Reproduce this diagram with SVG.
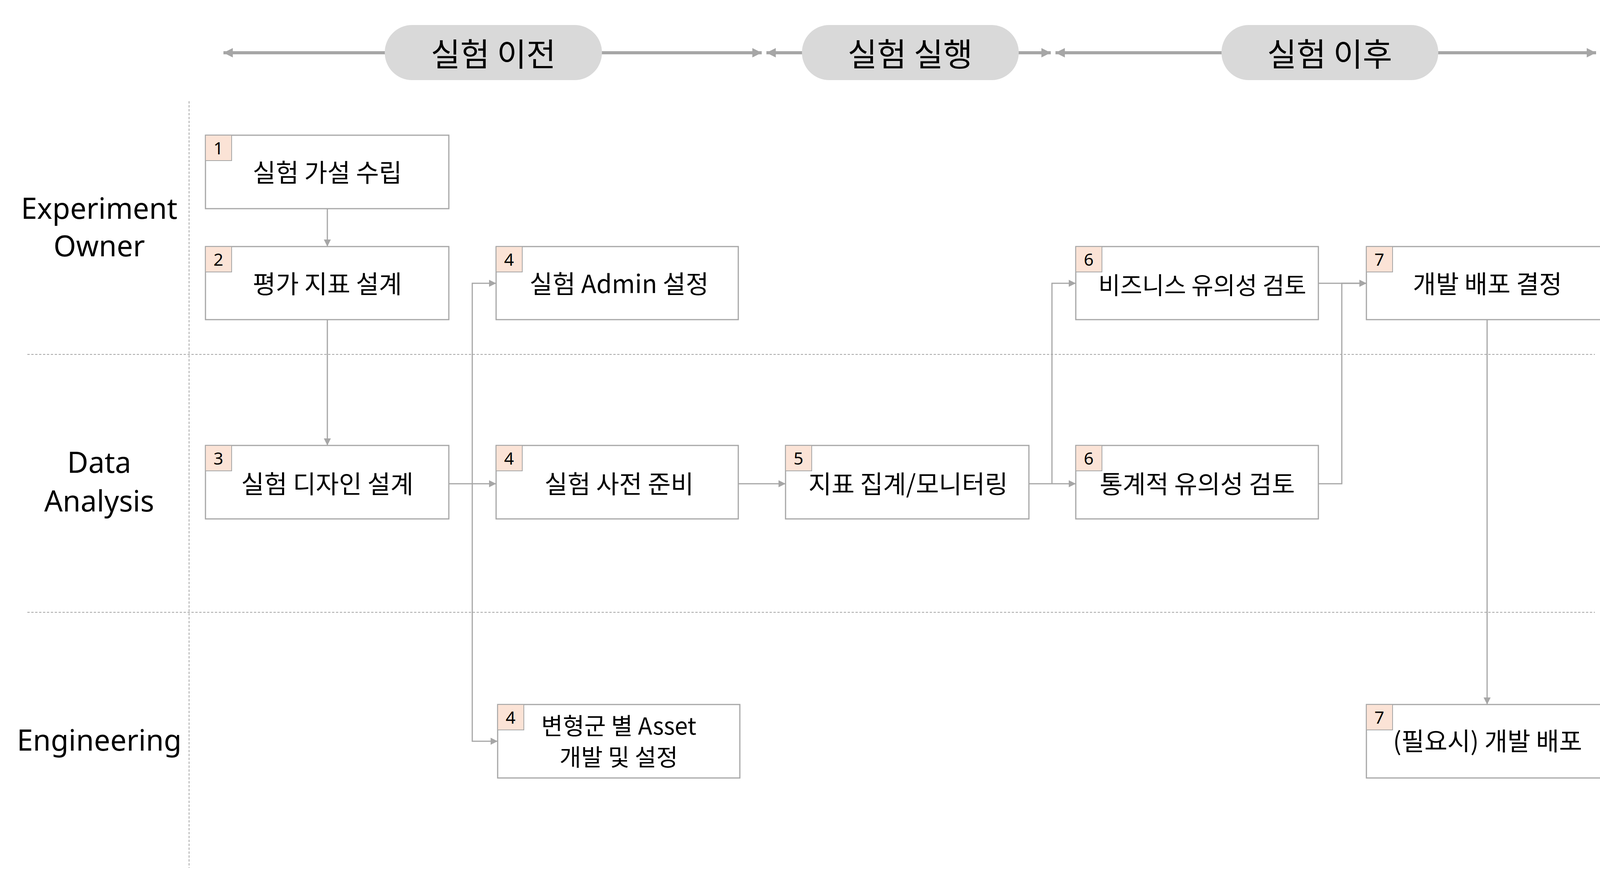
<svg xmlns="http://www.w3.org/2000/svg" width="4185" height="2247" viewBox="0 0 4185 2247">
<style>
.box{fill:#fff;stroke:#a6a6a6;stroke-width:3}
.badge{fill:#fbe3d6;stroke:#a6a6a6;stroke-width:2}
.t{font-family:"Noto Sans CJK KR","Noto Sans",sans-serif;font-size:64px;fill:#000;text-anchor:middle;dominant-baseline:central}
.n{font-family:"Noto Sans","Noto Sans CJK KR",sans-serif;font-size:44px;fill:#000;text-anchor:middle;dominant-baseline:central}
.lane{font-family:"Noto Sans","Noto Sans CJK KR",sans-serif;font-size:74px;fill:#000;text-anchor:middle;dominant-baseline:central}
.pill{fill:#d9d9d9}
.pt{font-family:"Noto Sans CJK KR",sans-serif;font-size:82px;fill:#000;text-anchor:middle;dominant-baseline:central}
.c{fill:none;stroke:#a6a6a6;stroke-width:3;marker-end:url(#a)}
.h{fill:none;stroke:#a6a6a6;stroke-width:8;marker-end:url(#ha);marker-start:url(#hs)}
.d{stroke:#a6a6a6;stroke-width:2;stroke-dasharray:6 4}
</style>
<defs>
<marker id="a" viewBox="0 0 10 10" refX="10" refY="5" markerWidth="6" markerHeight="6" orient="auto"><path d="M0,0L10,5L0,10z" fill="#a6a6a6"/></marker>
<marker id="ha" viewBox="0 0 10 10" refX="10" refY="5" markerWidth="3" markerHeight="3" orient="auto"><path d="M0,0L10,5L0,10z" fill="#a6a6a6"/></marker>
<marker id="hs" viewBox="0 0 10 10" refX="0" refY="5" markerWidth="3" markerHeight="3" orient="auto"><path d="M10,0L0,5L10,10z" fill="#a6a6a6"/></marker>
</defs>
<rect width="4185" height="2247" fill="#fff"/>
<g id="lanes">
<line class="d" x1="484" y1="259" x2="484" y2="2221"/>
<line class="d" x1="70" y1="907" x2="4083" y2="907"/>
<line class="d" x1="70" y1="1567" x2="4083" y2="1567"/>
<text class="lane" x="254" y="531">Experiment</text>
<text class="lane" x="254" y="627">Owner</text>
<text class="lane" x="254" y="1181">Data</text>
<text class="lane" x="254" y="1280">Analysis</text>
<text class="lane" x="254" y="1892">Engineering</text>
</g>
<g id="phases">
<line class="h" x1="572" y1="135" x2="1950" y2="135"/>
<line class="h" x1="1962" y1="135" x2="2690" y2="135"/>
<line class="h" x1="2702" y1="135" x2="4086" y2="135"/>
<rect class="pill" x="985" y="64" width="556" height="141" rx="70"/>
<text class="pt" x="1263" y="133">실험 이전</text>
<rect class="pill" x="2053" y="64" width="555" height="141" rx="70"/>
<text class="pt" x="2330" y="133">실험 실행</text>
<rect class="pill" x="3127" y="64" width="555" height="141" rx="70"/>
<text class="pt" x="3404" y="133">실험 이후</text>
</g>
<g id="connectors">
<path class="c" d="M838,534V631"/>
<path class="c" d="M838,818V1140"/>
<path class="c" d="M1149,1238H1270"/>
<path class="c" d="M1209,1238V725H1270"/>
<path class="c" d="M1209,1238V1897H1274"/>
<path class="c" d="M1890,1238H2011"/>
<path class="c" d="M2634,1238H2754"/>
<path class="c" d="M2693,1238V725H2754"/>
<path class="c" d="M3375,725H3498"/>
<path class="c" d="M3375,1238H3435V725H3498"/>
<path class="c" d="M3807,818V1803"/>
</g>
<g id="n1"><rect class="box" x="526" y="346" width="623" height="188"/><rect class="badge" x="526" y="346" width="67" height="65"/><text class="n" x="559" y="378">1</text><text class="t" x="838" y="437">실험 가설 수립</text></g>
<g id="n2"><rect class="box" x="526" y="631" width="623" height="187"/><rect class="badge" x="526" y="631" width="67" height="65"/><text class="n" x="559" y="663">2</text><text class="t" x="838" y="722">평가 지표 설계</text></g>
<g id="n3"><rect class="box" x="526" y="1140" width="623" height="188"/><rect class="badge" x="526" y="1140" width="67" height="65"/><text class="n" x="559" y="1172">3</text><text class="t" x="838" y="1234">실험 디자인 설계</text></g>
<g id="n4a"><rect class="box" x="1270" y="631" width="620" height="187"/><rect class="badge" x="1270" y="631" width="67" height="65"/><text class="n" x="1303" y="663">4</text><text class="t" x="1585" y="722">실험 Admin 설정</text></g>
<g id="n4b"><rect class="box" x="1270" y="1140" width="620" height="188"/><rect class="badge" x="1270" y="1140" width="67" height="65"/><text class="n" x="1303" y="1172">4</text><text class="t" x="1585" y="1234">실험 사전 준비</text></g>
<g id="n4c"><rect class="box" x="1274" y="1803" width="620" height="188"/><rect class="badge" x="1274" y="1803" width="67" height="65"/><text class="n" x="1307" y="1835">4</text><text class="t" x="1584" y="1853" style="font-size:60px">변형군 별 Asset</text><text class="t" x="1584" y="1933" style="font-size:60px">개발 및 설정</text></g>
<g id="n5"><rect class="box" x="2011" y="1140" width="623" height="188"/><rect class="badge" x="2011" y="1140" width="67" height="65"/><text class="n" x="2044" y="1172">5</text><text class="t" x="2325" y="1234">지표 집계/모니터링</text></g>
<g id="n6a"><rect class="box" x="2754" y="631" width="621" height="187"/><rect class="badge" x="2754" y="631" width="67" height="65"/><text class="n" x="2787" y="663">6</text><text class="t" x="3078" y="726" style="font-size:61px">비즈니스 유의성 검토</text></g>
<g id="n6b"><rect class="box" x="2754" y="1140" width="621" height="188"/><rect class="badge" x="2754" y="1140" width="67" height="65"/><text class="n" x="2787" y="1172">6</text><text class="t" x="3065" y="1234">통계적 유의성 검토</text></g>
<g id="n7a"><rect class="box" x="3498" y="631" width="620" height="187"/><rect class="badge" x="3498" y="631" width="67" height="65"/><text class="n" x="3531" y="663">7</text><text class="t" x="3808" y="722">개발 배포 결정</text></g>
<g id="n7b"><rect class="box" x="3498" y="1803" width="620" height="188"/><rect class="badge" x="3498" y="1803" width="67" height="65"/><text class="n" x="3531" y="1835">7</text><text class="t" x="3808" y="1892">(필요시) 개발 배포</text></g>
</svg>
